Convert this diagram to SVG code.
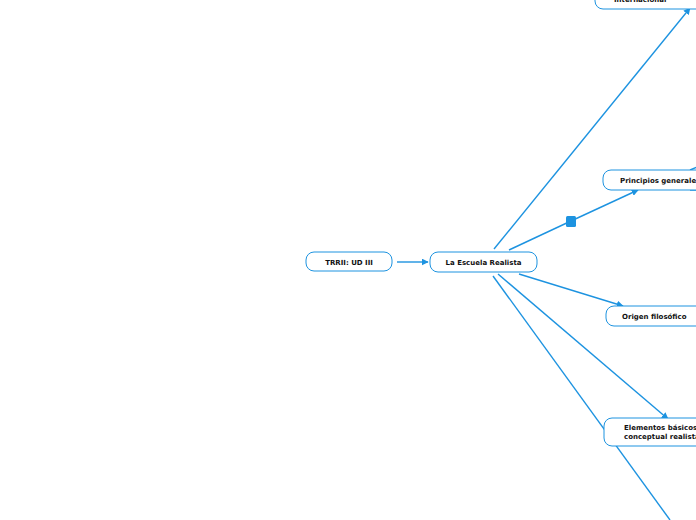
<svg xmlns="http://www.w3.org/2000/svg" width="696" height="520" viewBox="0 0 696 520">
<defs>
<marker id="ah" viewBox="0 0 10 10" refX="9" refY="5" markerWidth="7" markerHeight="7" markerUnits="userSpaceOnUse" orient="auto">
<path d="M0,0 L10,5 L0,10 z" fill="#1d93e0"/>
</marker>
<style>
.c{stroke:#1d93e0;stroke-width:1.4;fill:none}
.n{fill:#fff;stroke:#1d93e0;stroke-width:1}
.t{font-family:"DejaVu Sans",Verdana,sans-serif;font-weight:bold;font-size:7px;fill:#111}
</style>
</defs>
<rect width="696" height="520" fill="#fff"/>
<g id="connectors">
<line class="c" x1="397" y1="262" x2="428" y2="262" marker-end="url(#ah)"/>
<line class="c" x1="494" y1="249" x2="690" y2="8" marker-end="url(#ah)"/>
<line class="c" x1="509" y1="250" x2="571" y2="221"/>
<line class="c" x1="571" y1="221" x2="638" y2="190" marker-end="url(#ah)"/>
<rect x="566" y="216" width="10" height="11" rx="1.5" fill="#1d93e0"/>
<line class="c" x1="519" y1="274" x2="623" y2="306" marker-end="url(#ah)"/>
<line class="c" x1="498" y1="274" x2="668" y2="419" marker-end="url(#ah)"/>
<line class="c" x1="493" y1="276" x2="670" y2="520"/>
<line class="c" x1="690" y1="170" x2="697" y2="167"/>
<line class="c" x1="690" y1="190" x2="697" y2="190"/>
</g>
<g id="n_trrii">
<rect class="n" x="306" y="252" width="86" height="19" rx="8"/>
<text class="t" x="349" y="264.5" text-anchor="middle">TRRII: UD III</text>
</g>
<g id="n_escuela">
<rect class="n" x="430" y="252" width="107" height="20" rx="8"/>
<text class="t" x="483.5" y="264.5" text-anchor="middle">La Escuela Realista</text>
</g>
<g id="n_internacional">
<rect class="n" x="595" y="-12" width="120" height="21" rx="8"/>
<text class="t" x="614" y="2">Internacional</text>
</g>
<g id="n_principios">
<rect class="n" x="603" y="170" width="110" height="20" rx="8"/>
<text class="t" x="620" y="182.5">Principios generales</text>
</g>
<g id="n_origen">
<rect class="n" x="606" y="306" width="110" height="20" rx="8"/>
<text class="t" x="622" y="318.5">Origen filosófico</text>
</g>
<g id="n_elementos">
<rect class="n" x="604" y="418" width="110" height="28" rx="8"/>
<text class="t" x="624" y="430">Elementos básicos</text>
<text class="t" x="624" y="439">conceptual realista</text>
</g>
</svg>
